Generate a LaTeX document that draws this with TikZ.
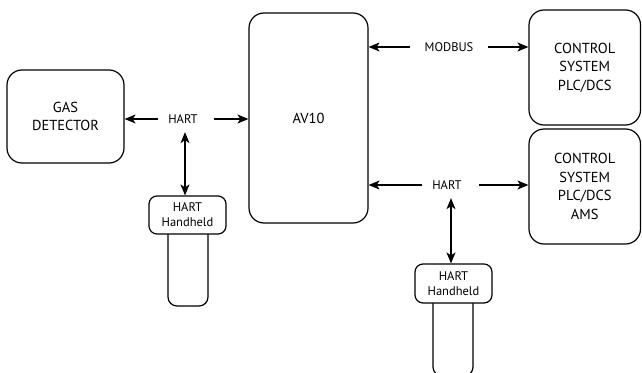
\documentclass[tikz,border=0pt]{standalone}
\usepackage{fontspec}
\setmainfont{PT Sans}
\usetikzlibrary{arrows.meta}
\begin{document}
\begin{tikzpicture}[x=1pt,y=-1pt,
  box/.style={draw, line width=1.2pt, rounded corners=15pt, align=center,
    font=\fontsize{14.5}{18.5}\selectfont, inner sep=0pt},
  hhbox/.style={draw, line width=1.2pt, rounded corners=8pt, align=center, fill=white,
    font=\fontsize{12.5}{15}\selectfont, inner sep=0pt, minimum width=77pt, minimum height=38pt},
  handle/.style={draw, line width=1.2pt, rounded corners=9pt, inner sep=0pt, minimum width=40pt},
  lbl/.style={font=\fontsize{12.5}{15}\selectfont, inner xsep=10pt, inner ysep=8.5pt},
  arr/.style={line width=1.2pt, -{Stealth[length=11pt,width=9pt,inset=3pt]}},
  darr/.style={line width=1.2pt, {Stealth[length=11pt,width=9pt,inset=3pt]}-{Stealth[length=11pt,width=9pt,inset=3pt]}}]
\clip (0,0) rectangle (642,372);
\path[use as bounding box] (0,0) rectangle (642,372);

\node[box, minimum width=117pt, minimum height=93pt] (gas) at (65.5,116.5) {GAS\\DETECTOR};
\node[box, minimum width=119pt, minimum height=210pt] (av) at (308.5,118) {AV10};
\node[box, minimum width=111.5pt, minimum height=115pt] (cs1) at (584.75,67.5) {CONTROL\\SYSTEM\\PLC/DCS};
\node[box, minimum width=111.5pt, minimum height=115pt] (cs2) at (584.75,186.5) {CONTROL\\SYSTEM\\PLC/DCS\\AMS};

\node[handle, minimum height=86pt] (hd1) at (188,263) {};
\node[hhbox] (hh1) at (187.5,215) {HART\\Handheld};
\node[handle, minimum height=86pt] (hd2) at (453,333) {};
\node[hhbox, minimum height=39pt] (hh2) at (453.5,283.5) {HART\\Handheld};

\node[lbl] (hartA) at (183,119) {HART};
\node[lbl, inner xsep=14pt] (modbus) at (449,47) {MODBUS};
\node[lbl] (hartB) at (447,185) {HART};

\draw[arr] (hartA.west) -- (hartA.west -| gas.east);
\draw[arr] ([xshift=6pt]hartA.east) -- (hartA.east -| av.west);
\draw[darr] ([xshift=2pt]hartA.south) -- ([xshift=2pt]hartA.south |- hh1.north);

\draw[arr] (modbus.west) -- (modbus.west -| av.east);
\draw[arr] (modbus.east) -- (modbus.east -| cs1.west);

\draw[arr] (hartB.west) -- (hartB.west -| av.east);
\draw[arr] ([xshift=7pt]hartB.east) -- (hartB.east -| cs2.west);
\draw[darr] ([xshift=4pt]hartB.south) -- ([xshift=4pt]hartB.south |- hh2.north);
\end{tikzpicture}
\end{document}
